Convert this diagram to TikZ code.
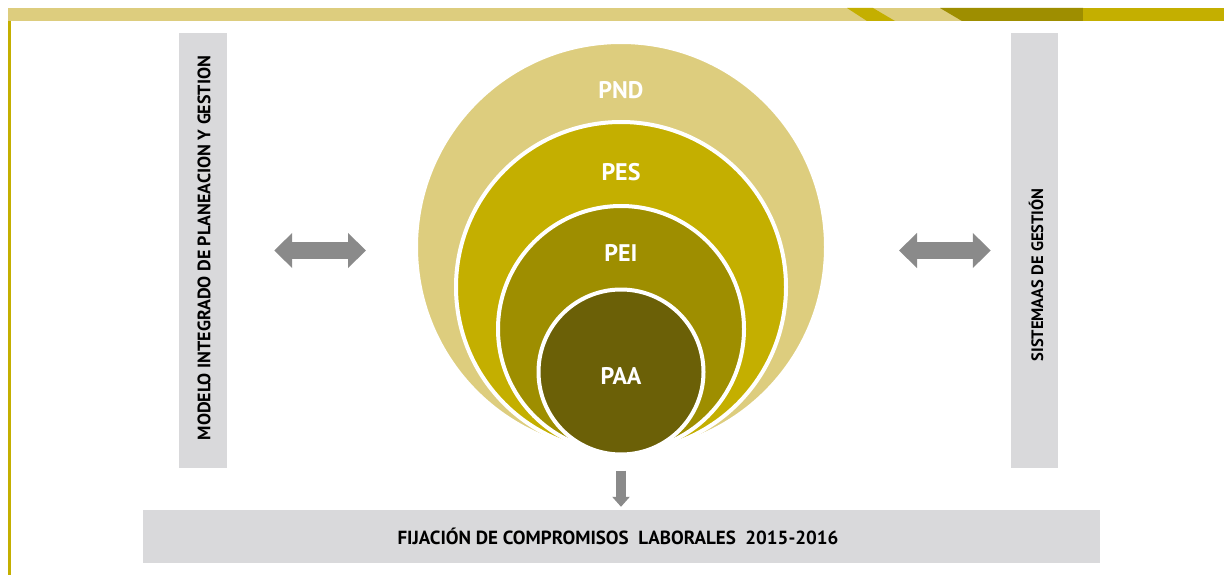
\documentclass[tikz,border=0pt]{standalone}
\usepackage{fontspec}
\setmainfont{PT Sans}
\usepackage{tikz}
\usetikzlibrary{arrows.meta,positioning}
\definecolor{pndcol}{HTML}{DDCD7E}
\definecolor{pescol}{HTML}{C4AF00}
\definecolor{peicol}{HTML}{9E8E00}
\definecolor{paacol}{HTML}{6B6007}
\definecolor{boxgrey}{HTML}{D9D9DB}
\definecolor{arrowgrey}{HTML}{8A8A8A}
\tikzstyle{ring}=[circle,draw=white,line width=4pt,inner sep=0pt]
\tikzstyle{ring label}=[font=\bfseries\fontsize{24}{24}\selectfont,text=white,inner sep=0pt]
\tikzstyle{grey box}=[fill=boxgrey,inner sep=0pt]
\tikzstyle{box label}=[font=\bfseries\fontsize{18}{18}\selectfont,inner sep=0pt]
\tikzstyle{wide arrow}=[draw=arrowgrey,line width=17pt,{Triangle[length=18pt,width=34pt]}-{Triangle[length=18pt,width=34pt]}]
\tikzstyle{down arrow}=[draw=arrowgrey,line width=10pt,-{Triangle[length=10pt,width=17pt]}]

\begin{document}
\begin{tikzpicture}[x=1pt,y=-1pt]
    \useasboundingbox (0,0) rectangle (1224,575);
    % top band and left rule
    \fill[pndcol] (8,8) rectangle (1224,21);
    \fill[pescol] (847,8) -- (873,8) -- (895,21) -- (867,21) -- cycle;
    \fill[peicol] (940,8) -- (1083,8) -- (1083,21) -- (962,21) -- cycle;
    \fill[pescol] (1083,8) rectangle (1224,21);
    \fill[pescol] (8,21) rectangle (11,575);
    % nested plans
    \foreach \name/\size/\cy/\col in {pnd/410/247/pndcol, pes/330/287/pescol, pei/246/329/peicol, paa/165/372/paacol}
        \node[ring,fill=\col,minimum size=\size pt] (\name) at (621,\cy) {};
    \foreach \name/\ty/\txt in {pndtext/90/PND, pestext/172/PES, peitext/253/PEI, paatext/376/PAA}
        \node[ring label] (\name) at (621,\ty) {\txt};
    % side and bottom boxes
    \node[grey box,minimum width=48pt,minimum height=435pt] (modelo) at (203,250.5) {};
    \node[box label,rotate=90] (modelotext) at (204,248) {MODELO INTEGRADO DE PLANEACION Y GESTION};
    \node[grey box,minimum width=47pt,minimum height=435pt] (sistemas) at (1034.5,250.5) {};
    \node[box label,rotate=90,font=\bfseries\fontsize{16.5}{16.5}\selectfont] (sistemastext) at (1036,275) {SISTEMAAS DE GESTIÓN};
    \node[grey box,minimum width=957pt,minimum height=53pt] (fijacion) at (621.5,536.5) {};
    \node[box label,font=\bfseries\fontsize{19}{19}\selectfont] (fijaciontext) at (618,536) {FIJACIÓN DE COMPROMISOS\ \ LABORALES\ \ 2015-2016};
    % arrows
    \path[wide arrow,shorten <=47pt,shorten >=48pt] (modelo.east) -- (modelo.east -| pnd.west);
    \path[wide arrow,shorten <=71pt,shorten >=20pt] (sistemas.west -| pnd.east) -- (sistemas.west);
    \path[down arrow,shorten <=14pt,shorten >=3pt] (paa.south) -- (fijacion.north -| paa.south);
\end{tikzpicture}
\end{document}
